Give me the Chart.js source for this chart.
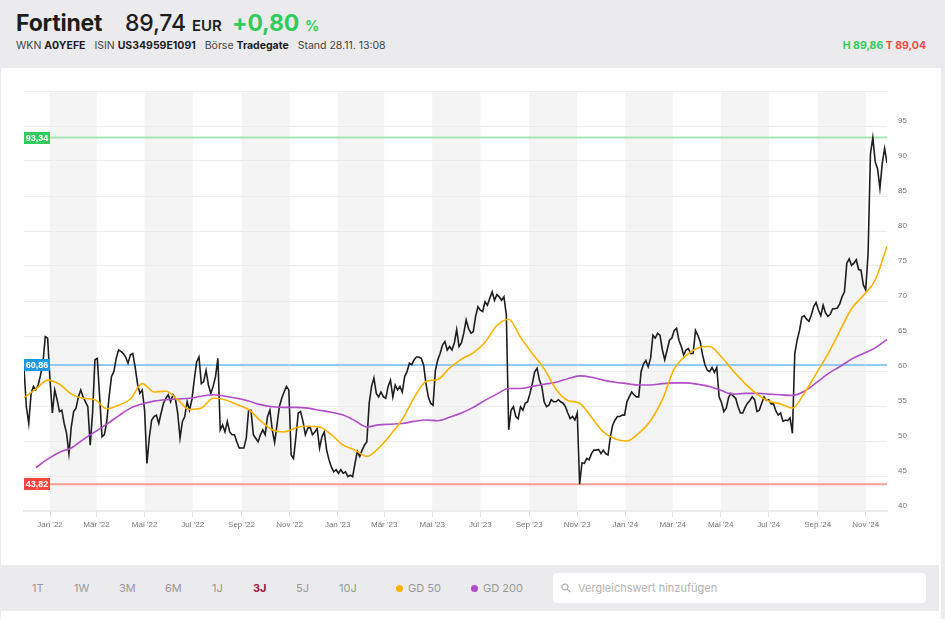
<!DOCTYPE html>
<html lang="de">
<head>
<meta charset="utf-8">
<title>Fortinet</title>
<script src="https://cdn.jsdelivr.net/npm/chart.js@4.4.1/dist/chart.umd.min.js"></script>
<style>
  html, body { margin: 0; padding: 0; }
  body { width: 945px; height: 619px; background: #ebebed; position: relative; overflow: hidden;
         font-family: 'Inter', 'Liberation Sans', sans-serif; color: #1d1d1f; }
  .row1 { position: absolute; left: 16px; top: 9px; display: flex; align-items: baseline; line-height: 28px; white-space: nowrap; }
  .name { font-size: 23px; font-weight: 700; width: 109px; letter-spacing: -0.2px; }
  .price { font-size: 23px; font-weight: 500; width: 67px; letter-spacing: -0.2px; }
  .cur { font-size: 15px; font-weight: 600; width: 40px; }
  .chg { font-size: 23px; font-weight: 700; color: #2fcc5b; width: 73px; letter-spacing: -0.2px; }
  .pct { font-size: 14px; font-weight: 700; color: #2fcc5b; }
  .row2 { position: absolute; left: 16px; top: 39px; font-size: 10.5px; color: #444; line-height: 14px; white-space: nowrap; }
  .row2 b { color: #1d1d1f; font-weight: 700; margin-right: 6px; }
  .hl { position: absolute; right: 19px; top: 39px; font-size: 10.5px; font-weight: 700; line-height: 14px; }
  .hl .h { color: #2fcc5b; } .hl .t { color: #f04a45; }
  .panel { position: absolute; left: 1px; top: 68px; width: 940px; height: 551px; background: #fff; }
  #wrap { position: absolute; left: 0; top: 68px; width: 945px; height: 497px; }
  .bar { position: absolute; left: 1px; top: 565px; width: 938px; height: 46px; background: #ebebed; }
  .bar span { position: absolute; top: 16px; font-size: 11px; line-height: 14px; color: #999; }
  .bar span.on { color: #a0163c; font-weight: 700; }
  .dot { position: absolute; top: 20px; width: 7px; height: 7px; border-radius: 50%; }
  .search { position: absolute; left: 552px; top: 8px; width: 373px; height: 30px; background: #fff; border-radius: 4px; }
  .search span { left: 25px; top: 8px; color: #b4b4b4; }
  .search svg { position: absolute; left: 8px; top: 10px; }
</style>
</head>
<body>
<div class="row1">
  <span class="name">Fortinet</span>
  <span class="price">89,74</span>
  <span class="cur">EUR</span>
  <span class="chg">+0,80</span>
  <span class="pct">%</span>
</div>
<div class="row2">WKN <b>A0YEFE</b> ISIN <b>US34959E1091</b> Börse <b>Tradegate</b> Stand 28.11. 13:08</div>
<div class="hl"><span class="h">H 89,86</span> <span class="t">T 89,04</span></div>
<div class="panel"></div>
<div id="wrap"><canvas id="chart" width="945" height="497"></canvas></div>
<div class="bar">
  <span style="left:31px">1T</span>
  <span style="left:73px">1W</span>
  <span style="left:118px">3M</span>
  <span style="left:164px">6M</span>
  <span style="left:211px">1J</span>
  <span class="on" style="left:252px">3J</span>
  <span style="left:295px">5J</span>
  <span style="left:338px">10J</span>
  <i class="dot" style="left:395px;background:#f9b300"></i>
  <span style="left:407px">GD 50</span>
  <i class="dot" style="left:470px;background:#b04cc8"></i>
  <span style="left:482px">GD 200</span>
  <div class="search">
    <svg width="10" height="10" viewBox="0 0 10 10"><circle cx="4" cy="4" r="3" fill="none" stroke="#aaa" stroke-width="1.2"/><line x1="6.2" y1="6.2" x2="9" y2="9" stroke="#aaa" stroke-width="1.2"/></svg>
    <span>Vergleichswert hinzufügen</span>
  </div>
</div>

<script>
// Kursdaten (EUR), alle 3 Kalendertage ab 29.11.2021
const priceStart = '2021-11-29';
const priceStepDays = 3;
const priceValues = [
  60.4, 54.9, 52.5, 56.8, 57.8, 57.3, 58.0, 59.4, 61.1, 64.9,
  64.7, 58.7, 54.0, 57.3, 55.9, 54.2, 54.4, 52.5, 51.1, 48.2,
  52.0, 54.2, 54.7, 56.3, 57.3, 56.3, 55.6, 54.9, 49.4, 54.0,
  61.6, 61.8, 56.3, 50.6, 50.9, 52.8, 56.3, 59.2, 59.9, 61.8,
  63.0, 62.8, 62.5, 62.0, 61.1, 62.3, 62.5, 60.6, 58.2, 56.8,
  57.3, 54.4, 46.8, 50.5, 53.0, 53.5, 53.7, 52.5, 54.0, 55.4,
  56.1, 56.6, 55.6, 56.6, 56.1, 54.0, 50.4, 52.8, 53.5, 55.6,
  54.4, 55.9, 58.7, 61.3, 62.0, 58.2, 58.5, 60.1, 58.0, 56.8,
  57.8, 59.2, 61.8, 51.6, 52.3, 51.3, 52.8, 51.3, 50.9, 50.9,
  49.9, 49.0, 49.0, 49.0, 50.4, 54.4, 54.4, 50.9, 50.4, 49.9,
  50.9, 51.6, 50.9, 53.5, 54.4, 51.6, 49.8, 52.3, 54.9, 56.1,
  57.0, 57.8, 57.3, 48.0, 47.5, 50.6, 54.0, 54.2, 52.8, 50.9,
  51.8, 52.0, 50.9, 51.3, 51.8, 49.0,
  50.6, 51.3, 48.7, 47.3, 46.3, 45.6, 45.9, 45.4, 45.9, 45.4,
  45.6, 44.9, 45.1, 44.9, 46.8, 48.5, 47.8, 48.7, 49.4, 49.9,
  55.4, 57.8, 59.0, 56.8, 56.3, 57.0, 56.3, 56.1, 57.8, 58.7,
  56.3, 58.0, 57.3, 57.8, 57.0, 59.2, 59.9, 61.1, 60.9, 61.6,
  62.0, 62.0, 61.8, 60.9, 58.2, 56.3, 55.4, 55.1, 60.1, 61.6,
  62.5, 63.7, 64.2, 63.0, 63.5, 63.0, 64.0, 65.9, 63.5, 64.0,
  65.4, 67.3, 66.1, 65.4, 65.6, 67.8, 69.2, 68.7, 68.5, 69.9,
  69.4, 70.4, 71.3, 70.1, 70.9, 70.6, 70.1, 70.6, 68.0, 51.6,
  54.4, 54.9, 53.5, 53.2, 54.9, 54.4, 55.4, 55.6, 56.8, 58.2,
  59.9, 60.4, 58.7, 57.8, 55.6, 54.9, 55.1, 55.9, 55.6, 55.6,
  55.9, 55.6, 55.4, 54.9, 54.0, 53.2, 53.5, 53.0, 54.0, 43.82,
  46.9, 46.8, 47.5, 47.3, 48.2, 48.7, 48.7, 48.8, 48.2, 48.7,
  48.2, 48.0, 50.6, 52.3, 53.0, 53.5, 53.5, 53.7, 53.7, 55.6,
  56.3, 57.0, 56.6, 56.3, 56.3,
  59.9, 61.0, 61.5, 60.6, 61.8, 65.1, 64.7, 65.4, 65.1, 63.0,
  61.6, 63.0, 64.4, 64.7, 65.8, 66.1, 64.4, 63.5, 62.3, 63.0,
  63.2, 62.5, 62.5, 65.8, 65.1, 64.2, 62.3, 60.9, 60.1, 59.9,
  60.5, 59.8, 60.5, 56.3, 55.5, 54.2, 54.7, 56.2, 56.8, 56.4,
  56.1, 54.9, 54.0, 54.0, 54.8, 55.4, 55.8, 56.3, 55.9, 54.2,
  54.4, 55.4, 56.3, 55.8, 55.9, 55.3, 55.3, 54.3, 53.7, 54.0,
  52.8, 53.0, 52.9, 53.3, 51.1, 62.5, 64.4, 65.8, 67.7, 67.9,
  67.4, 67.1, 68.0, 69.2, 69.8, 68.7, 67.9, 69.4, 68.3, 67.8,
  68.1, 68.9, 68.9, 69.0, 69.6, 70.6, 71.3, 75.4, 76.0, 75.1,
  75.4, 75.9, 74.5, 74.4, 72.3, 71.6, 76.8, 91.0, 93.34, 89.9,
  88.9, 86.1, 89.7, 91.8, 89.74
];

const maStepDays = 15;
const gd50Values = [
  56.2, 57.4, 58.7, 58.1, 56.7, 56.1, 55.9, 54.6, 55.1, 56.0,
  58.2, 57.0, 57.1, 55.9, 54.5, 54.7, 56.1, 55.9, 55.2, 54.5,
  52.9, 51.6, 51.3, 51.9, 52.1, 52.0, 50.9, 49.4, 48.7, 47.8,
  49.0, 50.9, 53.1, 56.2, 58.5, 58.8, 60.4, 61.7, 62.6, 64.1,
  66.5, 67.4, 64.8, 62.5, 60.3, 57.4, 55.8, 55.4, 53.4, 51.3,
  50.3, 50.0, 51.1, 52.9, 55.9, 60.3, 62.2, 63.3, 63.5, 62.0,
  60.0, 58.2, 56.7, 55.7, 55.3, 54.7, 56.8, 59.6, 62.4, 65.7,
  68.9, 70.8, 73.0, 77.8
];
const gd200Values = [
  null, 46.2, 47.4, 48.4, 49.0, 50.2, 51.3, 52.4, 53.6, 54.7,
  55.3, 55.7, 55.9, 56.0, 56.1, 56.4, 56.6, 56.4, 56.1, 55.7,
  55.2, 54.9, 54.8, 54.8, 54.7, 54.4, 54.1, 53.7, 52.9, 52.0,
  52.3, 52.4, 52.5, 52.8, 53.0, 52.9, 53.4, 54.0, 54.8, 55.8,
  56.7, 57.5, 57.5, 57.8, 58.1, 58.4, 58.9, 59.3, 59.1, 58.7,
  58.4, 58.2, 58.0, 58.0, 58.2, 58.3, 58.3, 58.1, 57.8, 57.2,
  56.7, 56.8, 56.8, 56.7, 56.6, 56.5, 57.1, 58.3, 59.6, 60.6,
  61.7, 62.5, 63.3, 64.5
];

// Hoch / Schluss / Tief Marken
const levelValues = [93.34, 60.86, 43.82];
const levelLabels = ['93,34', '60,86', '43,82'];

const tickDates = ['2022-01-01','2022-03-01','2022-05-01','2022-07-01','2022-09-01','2022-11-01',
                   '2023-01-01','2023-03-01','2023-05-01','2023-07-01','2023-09-01','2023-11-01',
                   '2024-01-01','2024-03-01','2024-05-01','2024-07-01','2024-09-01','2024-11-01'];
const tickLabels = ["Jan '22","Mär '22","Mai '22","Jul '22","Sep '22","Nov '22",
                    "Jan '23","Mär '23","Mai '23","Jul '23","Sep '23","Nov '23",
                    "Jan '24","Mär '24","Mai '24","Jul '24","Sep '24","Nov '24"];
const endDate = '2024-11-28';

const DAY = 86400000;
function dayOf(s) { return Math.round((Date.parse(s) - Date.parse(priceStart)) / DAY); }
const tickDays = tickDates.map(dayOf);
const lastDay = dayOf(endDate);

const pricePts = priceValues.map((v, i) => ({ x: Math.min(i * priceStepDays, lastDay), y: v }));
const gd50Pts = gd50Values.map((v, i) => ({ x: i * maStepDays, y: v }));
const gd200Pts = gd200Values.map((v, i) => ({ x: i * maStepDays, y: v }));

const levelLine = ['#a8e6b6', '#92caf0', '#f59a94'];
const levelBox = ['#2fcc5b', '#1b98e6', '#f4453f'];

const bands = {
  id: 'bands',
  beforeDraw(chart) {
    const { ctx, chartArea: a, scales: { x } } = chart;
    ctx.save();
    ctx.fillStyle = '#f4f4f4';
    for (let i = 0; i + 1 < tickDays.length; i += 2) {
      const l = x.getPixelForValue(tickDays[i]);
      const r = x.getPixelForValue(tickDays[i + 1]);
      ctx.fillRect(l, a.top, r - l, a.bottom - a.top);
    }
    ctx.restore();
  }
};

const levels = {
  id: 'levels',
  beforeDatasetsDraw(chart) {
    const { ctx, chartArea: a, scales: { y } } = chart;
    ctx.save();
    levelValues.forEach((v, i) => {
      const py = y.getPixelForValue(v);
      ctx.strokeStyle = levelLine[i];
      ctx.lineWidth = 2;
      ctx.beginPath(); ctx.moveTo(a.left, py); ctx.lineTo(a.right, py); ctx.stroke();
    });
    ctx.restore();
  },
  afterDatasetsDraw(chart) {
    const { ctx, chartArea: a, scales: { y } } = chart;
    ctx.save();
    ctx.font = 'bold 9px "Liberation Sans"';
    ctx.textAlign = 'center';
    ctx.textBaseline = 'middle';
    levelValues.forEach((v, i) => {
      const py = Math.round(y.getPixelForValue(v));
      ctx.fillStyle = levelBox[i];
      ctx.fillRect(a.left, py - 6, 26, 12);
      ctx.fillStyle = '#fff';
      ctx.fillText(levelLabels[i], a.left + 13, py + 0.5);
    });
    ctx.restore();
  }
};

Chart.defaults.font.family = '"Liberation Sans", Arial, sans-serif';

new Chart(document.getElementById('chart'), {
  type: 'line',
  data: {
    datasets: [
      { label: 'GD 50', data: gd50Pts, borderColor: '#f9b300', borderWidth: 1.6, tension: 0.4, cubicInterpolationMode: 'monotone', spanGaps: false },
      { label: 'GD 200', data: gd200Pts, borderColor: '#b04cc8', borderWidth: 1.6, tension: 0.4, cubicInterpolationMode: 'monotone' },
      { label: 'Fortinet', data: pricePts, borderColor: '#1e1e1e', borderWidth: 1.6, tension: 0 }
    ]
  },
  options: {
    responsive: false,
    animation: false,
    parsing: true,
    layout: { padding: { left: 24, top: 23, right: 0, bottom: 0 }, autoPadding: false },
    elements: { point: { radius: 0 } },
    plugins: { legend: { display: false }, tooltip: { enabled: false } },
    scales: {
      x: {
        type: 'linear', min: 0, max: lastDay,
        afterFit(s) { s.height = 54; },
        afterBuildTicks(s) { s.ticks = tickDays.map(v => ({ value: v })); },
        ticks: { autoSkip: false, maxRotation: 0, padding: 3, color: '#777', font: { size: 8 },
                 callback: (v, i) => tickLabels[i] },
        grid: { drawOnChartArea: false, tickLength: 6, color: '#e2e2e2' },
        border: { color: '#ececec', width: 2 }
      },
      y: {
        position: 'right', min: 40, max: 100,
        afterFit(s) { s.width = 58; },
        ticks: { stepSize: 5, padding: 11, labelOffset: -5, color: '#777', font: { size: 8 },
                 callback: v => (v === 100 ? '' : v) },
        grid: { color: '#ececec', drawTicks: false },
        border: { display: false }
      }
    }
  },
  plugins: [bands, levels]
});
</script>
</body>
</html>
